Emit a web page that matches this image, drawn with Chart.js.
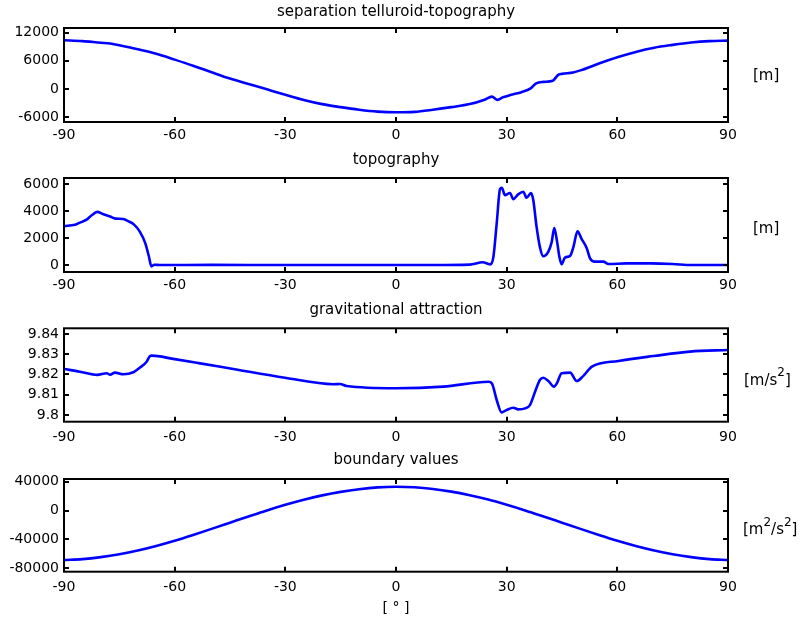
<!DOCTYPE html>
<html><head><meta charset="utf-8">
<script src="https://cdn.jsdelivr.net/npm/chart.js@4/dist/chart.umd.min.js"></script>
<style>
html,body{margin:0;padding:0;background:#fff;width:800px;height:623px;overflow:hidden}
canvas.p{position:absolute;left:0}
</style></head><body>
<canvas id="c1" class="p" width="800" height="150" style="top:0px"></canvas>
<canvas id="c2" class="p" width="800" height="150" style="top:150px"></canvas>
<canvas id="c3" class="p" width="800" height="150" style="top:300px"></canvas>
<canvas id="c4" class="p" width="800" height="173" style="top:450px"></canvas>
<script>
// ---- data ----
const xTicks = [-90, -60, -30, 0, 30, 60, 90];

const sepLon = [-90,-85,-80,-77.5,-75,-70,-65,-60,-55,-50,-45,-40,-35,-30,-25,-20,-15,-10,-5,0,5,10,15,20,24,26,27.5,29,31,34,36.5,38,40,42.5,44,45,48,50,55,60,65,70,75,80,85,90];
const sepVal = [10400,10200,9850,9700,9300,8450,7500,6250,4950,3550,2200,1050,-100,-1250,-2350,-3250,-3900,-4450,-4850,-5000,-4900,-4450,-3900,-3250,-2300,-1650,-2350,-1800,-1300,-700,100,1200,1500,1750,3000,3200,3500,3950,5400,6750,7900,8800,9400,9900,10200,10300];
const sepTicks = [-6000, 0, 6000, 12000];

const topoLon = [-90,-87,-85.7,-84,-82.5,-81,-79.5,-77.5,-76,-74,-72.5,-71,-69.5,-68,-67,-66.3,-65.5,-64,-50,-30,-10,0,10,20,23.5,25.5,26.4,27.3,28.2,28.7,29.5,30.9,31.8,33.1,34.5,35.4,36.6,37.2,38.1,39,39.9,41.3,42.2,42.9,43.6,44.3,44.9,45.8,47.2,48.1,49.2,50.3,51.7,52.6,53.9,56.2,57.6,62.5,69,75,80,90];
const topoVal = [2900,3000,3150,3350,3700,3950,3800,3600,3450,3420,3250,3000,2500,1650,650,-100,20,0,10,0,0,0,0,30,200,50,600,3100,5650,5750,5200,5350,4900,5250,5450,5000,5350,4850,2850,1350,650,1000,1700,2750,1850,600,50,550,680,1350,2500,1950,1250,500,250,250,70,120,120,80,0,0];
const topoTicks = [0, 2000, 4000, 6000];

const gravLon = [-90,-85.7,-81,-78.4,-77.5,-76.2,-73.9,-71.2,-69.4,-67.6,-66.7,-66.2,-60.4,-53.1,-44.1,-30.1,-17,-15.2,-13.4,0,12.8,25.1,26,27.3,28.6,30,31.8,33.1,35,36.3,37.7,39,39.9,41.3,42.8,43.6,44.9,47.2,49,50.8,53.1,60.3,69.8,79.7,90];
const gravVal = [9.8227,9.8214,9.8198,9.8206,9.8199,9.8209,9.8201,9.8211,9.8234,9.8263,9.8291,9.8293,9.8277,9.8255,9.8227,9.8184,9.8152,9.8153,9.8143,9.8132,9.8140,9.8164,9.8156,9.8074,9.8013,9.8025,9.8036,9.8028,9.8033,9.8049,9.8115,9.8173,9.8184,9.8168,9.8140,9.8156,9.8206,9.8209,9.8168,9.8193,9.8239,9.8267,9.8291,9.8313,9.8321];
const gravTicks = [9.8, 9.81, 9.82, 9.83, 9.84];

const bvLon = [-90,-85,-80,-75,-70,-65,-60,-55,-50,-45,-40,-35,-30,-25,-20,-15,-10,-5,0,5,10,15,20,25,30,35,40,45,50,55,60,65,70,75,80,85,90];
const bvVal = [-68500,-67300,-64500,-60500,-55300,-49000,-41800,-33800,-25400,-16800,-8200,200,8000,15000,21000,25900,29600,32100,33000,32200,29900,26200,21200,15200,8000,200,-8200,-16800,-25400,-33800,-41800,-49000,-55300,-60500,-64500,-67300,-68500];
const bvTicks = [-80000, -40000, 0, 40000];

const titles = ['separation telluroid-topography', 'topography', 'gravitational attraction', 'boundary values'];
const xLabel = '[ \u00b0 ]';
// unit labels as [text, isSuperscript] segments
const unit1 = [['[m]', 0]];
const unit2 = [['[m]', 0]];
const unit3 = [['[m/s', 0], ['2', 1], [']', 0]];
const unit4 = [['[m', 0], ['2', 1], ['/s', 0], ['2', 1], [']', 0]];

// ---- drawing ----
const FONT = '"DejaVu Sans", sans-serif';
Chart.defaults.color = '#000';
Chart.defaults.font.family = FONT;
Chart.defaults.font.size = 14;

const boxPlugin = {
  id: 'matlabBox',
  afterDraw(chart, args, opts) {
    const {ctx, chartArea: a, scales} = chart;
    ctx.save();
    ctx.strokeStyle = '#000';
    ctx.lineWidth = 2;
    ctx.strokeRect(a.left, a.top, a.right - a.left, a.bottom - a.top);
    const tl = 5;
    ctx.beginPath();
    scales.x.ticks.forEach(t => {
      const px = Math.round(scales.x.getPixelForValue(t.value));
      ctx.moveTo(px, a.bottom); ctx.lineTo(px, a.bottom - tl);
      ctx.moveTo(px, a.top); ctx.lineTo(px, a.top + tl);
    });
    scales.y.ticks.forEach(t => {
      const py = Math.round(scales.y.getPixelForValue(t.value));
      ctx.moveTo(a.left, py); ctx.lineTo(a.left + tl, py);
      ctx.moveTo(a.right, py); ctx.lineTo(a.right - tl, py);
    });
    ctx.stroke();
    let x = opts.unitX;
    const y = opts.unitY;
    ctx.fillStyle = '#000';
    ctx.textBaseline = 'middle';
    ctx.textAlign = 'left';
    opts.unit.forEach(([txt, sup]) => {
      ctx.font = (sup ? '12px ' : '15px ') + FONT;
      ctx.fillText(txt, x, sup ? y - 8 : y);
      x += ctx.measureText(txt).width;
    });
    ctx.restore();
  }
};

function makePanel(id, lon, vals, yMin, yMax, yTicks, title, unit, cfg) {
  const xScale = {
    type: 'linear', min: -90, max: 90,
    afterBuildTicks: s => { s.ticks = xTicks.map(v => ({value: v})); },
    afterFit: s => { s.height = cfg.xh; },
    grid: {display: false, drawTicks: false},
    border: {display: false},
    ticks: {padding: cfg.xpad, maxRotation: 0, autoSkip: false, callback: v => String(v), font: {size: 14}}
  };
  if (cfg.xTitle) {
    xScale.title = {display: true, text: cfg.xTitle, padding: {top: 0, bottom: 6}, font: {size: 14}};
  }
  return new Chart(document.getElementById(id), {
    type: 'line',
    data: {
      datasets: [{
        data: lon.map((x, i) => ({x: x, y: vals[i]})),
        borderColor: '#0000ff',
        borderWidth: 2.6,
        pointRadius: 0,
        fill: false,
        tension: 0.3,
        cubicInterpolationMode: 'monotone'
      }]
    },
    options: {
      responsive: false,
      animation: false,
      layout: {padding: {left: 0, right: 8, top: 0, bottom: 0}},
      plugins: {
        legend: {display: false},
        tooltip: {enabled: false},
        title: {display: true, text: title, color: '#000', font: {size: 15, weight: 'normal'},
                padding: {top: cfg.tTop, bottom: cfg.tBot}},
        matlabBox: {unit: unit, unitX: cfg.ux, unitY: cfg.uy}
      },
      scales: {
        x: xScale,
        y: {
          type: 'linear', min: yMin, max: yMax,
          afterBuildTicks: s => { s.ticks = yTicks.map(v => ({value: v})); },
          afterFit: s => { s.width = 64; },
          grid: {display: false, drawTicks: false},
          border: {display: false},
          ticks: {padding: 5, autoSkip: false, callback: v => String(v), font: {size: 14}}
        },
        yRight: {
          type: 'linear', position: 'right', display: true,
          afterFit: s => { s.width = 64; },
          grid: {display: false, drawTicks: false},
          border: {display: false},
          ticks: {display: false}
        }
      }
    },
    plugins: [boxPlugin]
  });
}

makePanel('c1', sepLon, sepVal, -7070, 13000, sepTicks, titles[0], unit1,
  {tTop: 3, tBot: 7, xh: 28, xpad: 4.6, ux: 753, uy: 76.5});
makePanel('c2', topoLon, topoVal, -520, 6470, topoTicks, titles[1], unit2,
  {tTop: 1, tBot: 9, xh: 28, xpad: 4.6, ux: 753, uy: 79.5});
makePanel('c3', gravLon, gravVal, 9.7967, 9.8428, gravTicks, titles[2], unit3,
  {tTop: 1, tBot: 9.3, xh: 28.3, xpad: 6.9, ux: 744, uy: 81});
makePanel('c4', bvLon, bvVal, -84700, 43700, bvTicks, titles[3], unit4,
  {tTop: 1, tBot: 10, xh: 51.3, xpad: 7.6, ux: 743, uy: 80.5, xTitle: xLabel});
</script>
</body></html>
